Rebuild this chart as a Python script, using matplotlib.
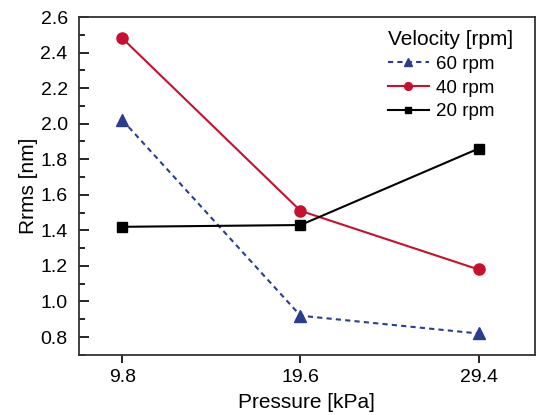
import matplotlib
matplotlib.use("Agg")
import matplotlib.pyplot as plt
from matplotlib.ticker import MultipleLocator, FormatStrFormatter

plt.rcParams['font.family'] = ['Liberation Sans', 'DejaVu Sans']

pressure = [9.8, 19.6, 29.4]
rpm60 = [2.02, 0.92, 0.82]
rpm40 = [2.48, 1.51, 1.18]
rpm20 = [1.42, 1.43, 1.86]

fig = plt.figure(figsize=(5.36, 4.15), dpi=100)
ax = fig.add_axes([0.147, 0.145, 0.851, 0.814])

ax.plot(pressure, rpm60, ls=(0, (2.5, 2)), color='#2b3d8f', lw=1.5, marker='^', ms=8.5, label='60 rpm')
ax.plot(pressure, rpm40, ls='-', color='#c8102e', lw=1.5, marker='o', ms=8, label='40 rpm')
ax.plot(pressure, rpm20, ls='-', color='black', lw=1.5, marker='s', ms=7, label='20 rpm')

ax.set_xlim(7.4, 32.5)
ax.set_ylim(0.7, 2.6)
ax.set_xticks(pressure)
ax.set_xticklabels(['9.8', '19.6', '29.4'])
ax.yaxis.set_major_locator(MultipleLocator(0.2))
ax.yaxis.set_minor_locator(MultipleLocator(0.1))
ax.yaxis.set_major_formatter(FormatStrFormatter('%.1f'))
ax.tick_params(axis='x', which='major', direction='out', length=6, width=1.2, labelsize=14, pad=4, top=False)
ax.tick_params(axis='y', which='major', direction='in', length=7, width=1.2, labelsize=14, pad=8, right=False)
ax.tick_params(axis='y', which='minor', direction='in', length=4, width=1.2, right=False)
for s in ax.spines.values():
    s.set_linewidth(1.3)
    s.set_color('#333333')

ax.set_xlabel('Pressure [kPa]', fontsize=15, labelpad=5)
ax.set_ylabel('Rrms [nm]', fontsize=15, labelpad=2)

leg = ax.legend(title='Velocity [rpm]', frameon=False, loc='upper right', fontsize=13.5,
                title_fontsize=15, handlelength=2.2, borderaxespad=0.3, labelspacing=0.35,
                handletextpad=0.4, markerscale=0.7, bbox_to_anchor=(0.98, 1.0))
leg._legend_box.align = 'left'

fig.savefig('out.png', dpi=100)
